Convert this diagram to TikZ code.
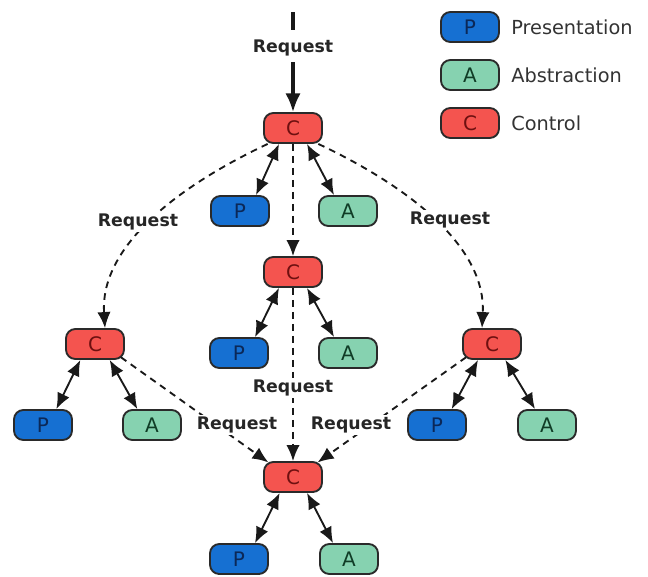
\documentclass[tikz,border=0pt]{standalone}
\usepackage{fontspec}
\setmainfont{DejaVu Sans}
\usetikzlibrary{arrows.meta}
\definecolor{cfill}{HTML}{F4544F}
\definecolor{pfill}{HTML}{1670D2}
\definecolor{afill}{HTML}{86D2B0}
\definecolor{ctext}{HTML}{6E1010}
\definecolor{ptext}{HTML}{0B2858}
\definecolor{atext}{HTML}{103C26}
\definecolor{edge}{HTML}{2A2A2A}
\tikzset{
  box/.style={draw=edge, line width=1.4pt, rounded corners=7pt, minimum width=43.5pt, minimum height=22.5pt, inner sep=0pt, font=\fontsize{15}{16}\selectfont},
  cbox/.style={box, fill=cfill, text=ctext},
  pbox/.style={box, fill=pfill, text=ptext},
  abox/.style={box, fill=afill, text=atext},
  req/.style={fill=white, inner sep=1.5pt, font=\fontsize{13}{15}\bfseries\selectfont, text=black!85},
  legtxt/.style={anchor=west, inner sep=0pt, font=\fontsize{14.5}{16}\selectfont, text=black!80},
  dbl/.style={{Latex[length=12pt,width=10pt]}-{Latex[length=12pt,width=10pt]}, line width=1.4pt, black!90},
  dsh/.style={-{Latex[length=12pt,width=10pt]}, line width=1.4pt, dash pattern=on 5pt off 4pt, black!90},
}
\begin{document}
\begin{tikzpicture}[x=0.75pt,y=-0.75pt]
\useasboundingbox (0,0) rectangle (648,576);
% legend
\node[pbox] (lgp) at (470,27) {P};
\node[abox] (lga) at (470,75) {A};
\node[cbox] (lgc) at (470,123) {C};
\node[legtxt] (lgpt) at (511,27) {Presentation};
\node[legtxt] (lgat) at (511,75) {Abstraction};
\node[legtxt] (lgct) at (511,123) {Control};
% nodes
\node[cbox] (tc) at (293,128) {C};
\node[pbox] (tp) at (240,211) {P};
\node[abox] (ta) at (348,211) {A};
\node[cbox] (mc) at (293,272) {C};
\node[pbox] (mp) at (239,353) {P};
\node[abox] (ma) at (348,353) {A};
\node[cbox] (lc) at (95,344) {C};
\node[pbox] (lp) at (43,425) {P};
\node[abox] (la) at (152,425) {A};
\node[cbox] (rc) at (492,344) {C};
\node[pbox] (rp) at (437,425) {P};
\node[abox] (ra) at (547,425) {A};
\node[cbox] (bc) at (293,477) {C};
\node[pbox] (bp) at (239,559) {P};
\node[abox] (ba) at (349,559) {A};
% incoming request
\coordinate (in1) at (293,12);
\coordinate (in2) at (293,30);
\coordinate (in3) at (293,62);
\draw[line width=2.3pt, black!90] (in1) -- (in2);
\node[req] (treq) at (293,48) {Request};
\draw[line width=2.3pt, black!90, -{Latex[length=14pt,width=11.5pt]}] (in3) -- (tc.north);
% double arrows
\draw[dbl] ([xshift=-10.5pt]tc.south) -- ([xshift=12pt]tp.north);
\draw[dbl] ([xshift=10.5pt]tc.south) -- ([xshift=-10.5pt]ta.north);
\draw[dbl] ([xshift=-10.5pt]mc.south) -- ([xshift=12pt]mp.north);
\draw[dbl] ([xshift=10.5pt]mc.south) -- ([xshift=-10.5pt]ma.north);
\draw[dbl] ([xshift=-11pt]lc.south) -- ([xshift=10pt]lp.north);
\draw[dbl] ([xshift=11pt]lc.south) -- ([xshift=-11pt]la.north);
\draw[dbl] ([xshift=-10.5pt]rc.south) -- ([xshift=11pt]rp.north);
\draw[dbl] ([xshift=10pt]rc.south) -- ([xshift=-9pt]ra.north);
\draw[dbl] ([xshift=-10pt]bc.south) -- ([xshift=12pt]bp.north);
\draw[dbl] ([xshift=10.5pt]bc.south) -- ([xshift=-12pt]ba.north);
% dashed requests
\draw[dsh] ([xshift=-19pt]tc.south) .. controls (170,190) and (100,250) .. ([xshift=7.5pt]lc.north);
\draw[dsh] ([xshift=19pt]tc.south) .. controls (416,190) and (486,250) .. ([xshift=-7.5pt]rc.north);
\draw[dsh] (tc.south) -- (mc.north);
\draw[dsh] (mc.south) -- (bc.north);
\draw[dsh] ([xshift=-3pt,yshift=2pt]lc.south east) -- ([xshift=4pt,yshift=-1pt]bc.north west);
\draw[dsh] ([xshift=3pt,yshift=2pt]rc.south west) -- ([xshift=-4pt,yshift=-1pt]bc.north east);
% labels
\node[req] (lreq) at (138,222) {Request};
\node[req] (rreq) at (450,220) {Request};
\node[req] (mreq) at (293,388) {Request};
\node[req] (blreq) at (237,425) {Request};
\node[req] (brreq) at (351,425) {Request};
\end{tikzpicture}
\end{document}
